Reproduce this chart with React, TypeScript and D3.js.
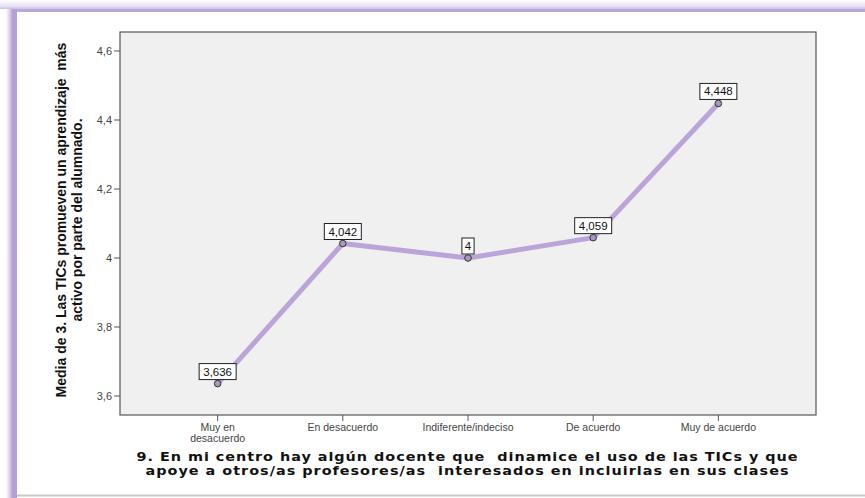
import React from "react";
import * as d3 from "d3";

const categories = ["Muy en\ndesacuerdo", "En desacuerdo", "Indiferente/indeciso", "De acuerdo", "Muy de acuerdo"];
const values = [3.636, 4.042, 4, 4.059, 4.448];
const valueLabels = ["3,636", "4,042", "4", "4,059", "4,448"];
const yTicks = [3.6, 3.8, 4.0, 4.2, 4.4, 4.6];
const yTickLabels = ["3,6", "3,8", "4", "4,2", "4,4", "4,6"];
const yTitle = ["Media de 3. Las TICs promueven un aprendizaje  más", "activo por parte del alumnado."];
const xTitle = [
  "9. En mi centro hay algún docente que  dinamice el uso de las TICs y que",
  "apoye a otros/as profesores/as  interesados en incluirlas en sus clases",
];
const xTitleWidths = [661, 643];

const W = 865, H = 498;
const plot = { left: 120, right: 816, top: 32, bottom: 415 };

export default function App() {
  const x = d3.scalePoint<string>().domain(categories).range([plot.left, plot.right]).padding(0.78);
  const y = d3.scaleLinear().domain([3.6, 4.6]).range([396, 51]);
  const line = d3.line<number>().x((_, i) => x(categories[i])!).y((d) => y(d));
  const tickFont = "'Liberation Sans', Arial, sans-serif";
  const sx = 1.2;
  return (
    <svg width={W} height={H} style={{ position: "absolute", left: 0, top: 0, whiteSpace: "pre" }}>
      <defs>
        <linearGradient id="topglow" x1="0" y1="0" x2="0" y2="1">
          <stop offset="0" stopColor="#ffffff" />
          <stop offset="0.7" stopColor="#e9e0f2" />
          <stop offset="1" stopColor="#cdbce2" />
        </linearGradient>
        <linearGradient id="leftglow" x1="0" y1="0" x2="1" y2="0">
          <stop offset="0" stopColor="#ffffff" />
          <stop offset="0.6" stopColor="#dccfeb" />
          <stop offset="1" stopColor="#bea9da" />
        </linearGradient>
      </defs>
      <rect x={0} y={0} width={W} height={H} fill="#ffffff" />
      <rect x={0} y={0} width={W} height={9} fill="url(#topglow)" />
      <rect x={12} y={9} width={W - 12} height={3} fill="#bca8d8" />
      <rect x={6} y={9} width={6} height={H - 9} fill="url(#leftglow)" />
      <rect x={12} y={9} width={5} height={H - 9} fill="#b6a1d5" />
      <line x1={17} x2={W} y1={495.5} y2={495.5} stroke="#c8c8c8" strokeWidth={2} />

      <rect x={plot.left} y={plot.top} width={plot.right - plot.left} height={plot.bottom - plot.top}
        fill="#f0f0f0" stroke="#555" strokeWidth={1.2} />

      {yTicks.map((t, i) => (
        <g key={i}>
          <line x1={plot.left - 6} x2={plot.left} y1={y(t)} y2={y(t)} stroke="#555" />
          <text x={plot.left - 8} y={y(t)} dy="0.35em" textAnchor="end" fontFamily={tickFont} fontSize={11} fill="#444">
            {yTickLabels[i]}
          </text>
        </g>
      ))}

      {categories.map((c, i) => {
        const lines = c.split("\n");
        return (
          <g key={i}>
            <line x1={x(c)} x2={x(c)} y1={plot.bottom} y2={plot.bottom + 6} stroke="#555" />
            {lines.map((l, j) => (
              <text key={j} x={x(c)} y={plot.bottom + 16 + j * 10.5} textAnchor="middle" fontFamily={tickFont} fontSize={10.5} fill="#444">
                {l}
              </text>
            ))}
          </g>
        );
      })}

      <path d={line(values)!} fill="none" stroke="#bba5d8" strokeWidth={5} strokeLinejoin="round" />

      {values.map((v, i) => {
        const cx = x(categories[i])!;
        const cy = y(v);
        const w = valueLabels[i].length * 6.2 + 6;
        return (
          <g key={i}>
            <circle cx={cx} cy={cy} r={3.3} fill="#a898bc" stroke="#333" strokeWidth={1} />
            <rect x={cx - w / 2} y={cy - 20} width={w} height={16} fill="#fff" stroke="#222" strokeWidth={1} />
            <text x={cx} y={cy - 8} textAnchor="middle" fontFamily={tickFont} fontSize={11.5} fill="#111">
              {valueLabels[i]}
            </text>
          </g>
        );
      })}

      <g transform="translate(66,220) rotate(-90)">
        {yTitle.map((t, i) => (
          <text key={i} x={0} y={i * 16} textAnchor="middle" fontFamily="'Liberation Sans Narrow', 'Liberation Sans', Arial, sans-serif"
            fontWeight="bold" fontSize={14} fill="#111" style={{ whiteSpace: "pre" }}>
            {t}
          </text>
        ))}
      </g>

      {xTitle.map((t, i) => (
        <g key={i} transform={`translate(467,${461 + i * 14}) scale(${sx},1)`}>
          <text x={0} y={0} textAnchor="middle" fontFamily="'DejaVu Sans', Verdana, sans-serif"
            fontWeight="bold" fontSize={12} fill="#111" textLength={xTitleWidths[i] / sx} lengthAdjust="spacing"
            style={{ whiteSpace: "pre" }}>
            {t}
          </text>
        </g>
      ))}
    </svg>
  );
}
